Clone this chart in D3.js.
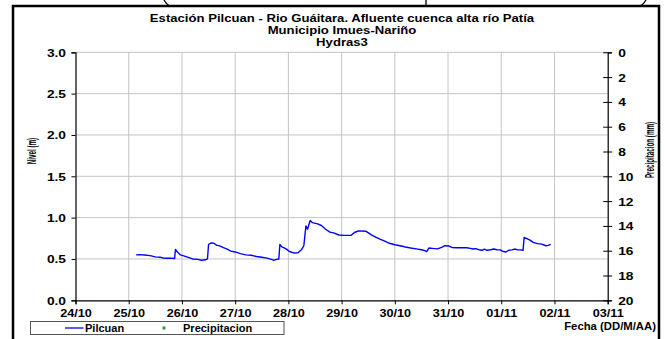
<!DOCTYPE html>
<html>
<head>
<meta charset="utf-8">
<script src="https://cdn.jsdelivr.net/npm/d3@7"></script>
<style>
  html, body { margin: 0; padding: 0; background: #fff; }
  svg { display: block; }
  text { font-family: "Liberation Sans", Arial, sans-serif; fill: #000; }
</style>
</head>
<body>
<div id="chart"></div>
<script>
// Hydras3 level record, station Pilcuan (timestamps DD/MM HH:MM)
const fechas = [
  "25/10 03:20","25/10 04:48","25/10 07:12","25/10 09:36","25/10 12:00","25/10 14:24",
  "25/10 15:36","25/10 17:15","25/10 19:12","25/10 20:40","25/10 21:05","25/10 22:05",
  "25/10 23:15","26/10 01:12","26/10 02:50","26/10 04:48","26/10 07:12","26/10 08:53",
  "26/10 10:34","26/10 11:31","26/10 12:00","26/10 13:12","26/10 14:24","26/10 15:36",
  "26/10 17:17","26/10 18:43","26/10 20:24","26/10 22:05","27/10 00:00","27/10 02:24",
  "27/10 04:48","27/10 07:12","27/10 09:36","27/10 12:00","27/10 14:24","27/10 16:19",
  "27/10 17:17","27/10 18:43","27/10 19:41","27/10 20:10","27/10 21:07","27/10 22:48",
  "28/10 00:29","28/10 02:24","28/10 04:19","28/10 06:00","28/10 06:58","28/10 07:55",
  "28/10 08:38","28/10 09:50","28/10 10:48","28/10 13:12","28/10 14:53","28/10 16:48",
  "28/10 18:43","28/10 20:24","28/10 22:48","29/10 01:12","29/10 04:19","29/10 05:46",
  "29/10 07:41","29/10 10:48","29/10 12:29","29/10 13:26","29/10 15:36","29/10 17:17",
  "29/10 19:12","29/10 21:36","30/10 00:00","30/10 02:24","30/10 04:48","30/10 07:12",
  "30/10 09:36","30/10 12:00","30/10 13:26","30/10 14:24","30/10 15:22","30/10 16:48",
  "30/10 19:12","30/10 21:07","30/10 22:34","31/10 00:29","31/10 01:55","31/10 03:36",
  "31/10 06:00","31/10 08:24","31/10 10:05","31/10 11:17","31/10 12:29","31/10 13:55",
  "31/10 15:22","31/10 16:19","31/10 17:31","31/10 19:12","31/10 20:38","31/10 22:05",
  "31/10 23:31","01/11 00:58","01/11 02:10","01/11 03:22","01/11 04:48","01/11 06:14",
  "01/11 07:12","01/11 08:38","01/11 09:50","01/11 10:19","01/11 11:17","01/11 12:58",
  "01/11 14:24","01/11 16:19","01/11 18:14","01/11 20:10","01/11 21:07","01/11 22:19"
];
const nivelPilcuan = [
  0.550,0.553,0.548,0.540,0.525,0.520,
  0.512,0.508,0.510,0.505,0.615,0.580,
  0.550,0.535,0.520,0.500,0.495,0.485,
  0.490,0.500,0.675,0.695,0.690,0.668,
  0.655,0.638,0.620,0.595,0.585,0.565,
  0.550,0.545,0.530,0.520,0.510,0.495,
  0.485,0.495,0.500,0.675,0.645,0.625,
  0.590,0.573,0.575,0.615,0.660,0.900,
  0.860,0.965,0.940,0.925,0.905,0.860,
  0.825,0.815,0.790,0.785,0.786,0.820,
  0.840,0.836,0.810,0.790,0.760,0.740,
  0.720,0.690,0.672,0.660,0.645,0.632,
  0.622,0.612,0.600,0.590,0.632,0.628,
  0.622,0.640,0.660,0.656,0.637,0.635,
  0.637,0.635,0.628,0.620,0.625,0.612,
  0.605,0.618,0.605,0.612,0.620,0.612,
  0.610,0.590,0.584,0.605,0.610,0.620,
  0.612,0.610,0.605,0.760,0.750,0.728,
  0.700,0.686,0.680,0.660,0.665,0.677
];
// Rain gauge series: no records in this period
const fechasPrecip = [];
const precipitacion = [];

const diasEje = ["24/10","25/10","26/10","27/10","28/10","29/10","30/10","31/10","01/11","02/11","03/11"];
const ticksNivel = [0, 0.5, 1.0, 1.5, 2.0, 2.5, 3.0];
const ticksPrecip = [0, 2, 4, 6, 8, 10, 12, 14, 16, 18, 20];

const titulo = [
  "Estación Pilcuan - Rio Guáitara. Afluente cuenca alta río Patía",
  "Municipio Imues-Nariño",
  "Hydras3"
];

const W = 665, H = 339;
const parse = d3.timeParse("%d/%m/%Y %H:%M");
const toDate = s => parse(s.replace(" ", "/2012 "));
const toDay = s => parse(s + "/2012 00:00");

const serie = fechas.map((f, i) => ({ t: toDate(f), v: nivelPilcuan[i] }));
const lluvia = fechasPrecip.map((f, i) => ({ t: toDate(f), v: precipitacion[i] }));
const dias = diasEje.map(toDay);

const plot = { left: 75.5, right: 607.7, top: 52.3, bottom: 300.3 };

const x = d3.scaleTime().domain([dias[0], dias[dias.length - 1]]).range([plot.left, plot.right]);
const y = d3.scaleLinear().domain([0, 3]).range([plot.bottom, plot.top]);
const yP = d3.scaleLinear().domain([0, 20]).range([plot.top, plot.bottom]);

const svg = d3.select("#chart").append("svg").attr("width", W).attr("height", H);

// fragments of the drawing above the frame
const above = svg.append("g").attr("fill", "none").attr("stroke", "#000").attr("stroke-width", 1.3);
above.append("path").attr("d", "M164,0 Q166,4 170,6.5");
above.append("path").attr("d", "M426,0 L426,6");
above.append("path").attr("d", "M646,0 Q644,4 640,6.5");

// outer frame
svg.append("rect")
  .attr("x", 13).attr("y", 6).attr("width", 646).attr("height", H)
  .attr("fill", "#fff").attr("stroke", "#000").attr("stroke-width", 2.5);

// stretched bold label helper
function label(g, txt, px, py, opts) {
  const o = Object.assign({ size: 11, sx: 1.15, anchor: "middle", weight: "bold" }, opts || {});
  return g.append("text")
    .attr("transform", `translate(${px},${py}) scale(${o.sx},1)`)
    .attr("text-anchor", o.anchor)
    .attr("font-size", o.size)
    .attr("font-weight", o.weight)
    .text(txt);
}

// titles
const tg = svg.append("g");
[22, 34, 46].forEach((by, i) => label(tg, titulo[i], 342, by, { size: 10.5, sx: 1.25 }));

// grid
const grid = svg.append("g").attr("stroke", "#c4c4c4").attr("stroke-width", 1);
grid.selectAll("line.h").data(ticksNivel.filter(d => d > 0)).join("line")
  .attr("x1", plot.left).attr("x2", plot.right)
  .attr("y1", d => y(d)).attr("y2", d => y(d));
grid.selectAll("line.v").data(dias.slice(1, -1)).join("line")
  .attr("x1", d => x(d)).attr("x2", d => x(d))
  .attr("y1", plot.top).attr("y2", plot.bottom);

// left axis
const axL = svg.append("g").attr("transform", `translate(${plot.left},0)`)
  .call(d3.axisLeft(y).tickValues(ticksNivel).tickSize(4).tickFormat(() => ""));
axL.select(".domain").attr("stroke", "#000").attr("stroke-width", 1.2);
axL.selectAll(".tick line").attr("stroke", "#000");
axL.selectAll(".tick").each(function (d) {
  label(d3.select(this), d3.format(".1f")(d), -9.5, 4, { anchor: "end", sx: 1.25, size: 11 });
});

// bottom axis
const axB = svg.append("g").attr("transform", `translate(0,${plot.bottom})`)
  .call(d3.axisBottom(x).tickValues(dias).tickSize(4).tickFormat(() => ""));
axB.select(".domain").attr("stroke", "#000").attr("stroke-width", 1.2);
axB.selectAll(".tick line").attr("stroke", "#000");
axB.selectAll(".tick").each(function (d, i) {
  label(d3.select(this), diasEje[i], 0, 17, { sx: 1.15, size: 11 });
});

// right axis (precipitation, inverted)
const axR = svg.append("g").attr("transform", `translate(${plot.right},0)`)
  .call(d3.axisRight(yP).tickValues(ticksPrecip).tickSize(4).tickFormat(() => ""));
axR.select(".domain").attr("stroke", "#000").attr("stroke-width", 1.2);
axR.selectAll(".tick line").attr("stroke", "#000").attr("x1", -4.5).attr("x2", 4.5);
axR.selectAll(".tick").each(function (d) {
  label(d3.select(this), String(d), 10.5, 4, { anchor: "start", sx: 1.25, size: 11 });
});

// axis titles
function vlabel(txt, px, py) {
  svg.append("text")
    .attr("transform", `translate(${px},${py}) rotate(-90) scale(0.5,1)`)
    .attr("text-anchor", "middle")
    .attr("font-size", 12.5)
    .attr("font-weight", "bold")
    .text(txt);
}
vlabel("Nivel (m)", 36, 151);
vlabel("Precipitacion (mm)", 654, 150);

label(svg, "Fecha (DD/M/AA)", 656, 330, { anchor: "end", sx: 1.03, size: 11 });

// level series
const line = d3.line().x(d => x(d.t)).y(d => y(d.v));
svg.append("path").datum(serie)
  .attr("d", line)
  .attr("fill", "none")
  .attr("stroke", "#0000ff")
  .attr("stroke-width", 1.4)
  .attr("stroke-linejoin", "round");

// precipitation points (secondary axis)
svg.append("g").selectAll("rect").data(lluvia).join("rect")
  .attr("x", d => x(d.t) - 1.5).attr("y", d => yP(d.v) - 1.5)
  .attr("width", 3).attr("height", 3).attr("fill", "#2ca02c");

// legend
const lg = svg.append("g");
lg.append("rect").attr("x", 30.5).attr("y", 321.5).attr("width", 253.5).attr("height", 13)
  .attr("fill", "#fff").attr("stroke", "#555").attr("stroke-width", 1);
lg.append("line").attr("x1", 65).attr("x2", 83.5).attr("y1", 328).attr("y2", 328)
  .attr("stroke", "#0000ff").attr("stroke-width", 1.3);
label(lg, "Pilcuan", 85, 332, { anchor: "start", size: 10.5, sx: 1.05 });
lg.append("rect").attr("x", 162.5).attr("y", 326.5).attr("width", 3).attr("height", 3).attr("fill", "#2ca02c");
label(lg, "Precipitacion", 183, 332, { anchor: "start", size: 10.5, sx: 1.05 });
</script>
</body>
</html>
